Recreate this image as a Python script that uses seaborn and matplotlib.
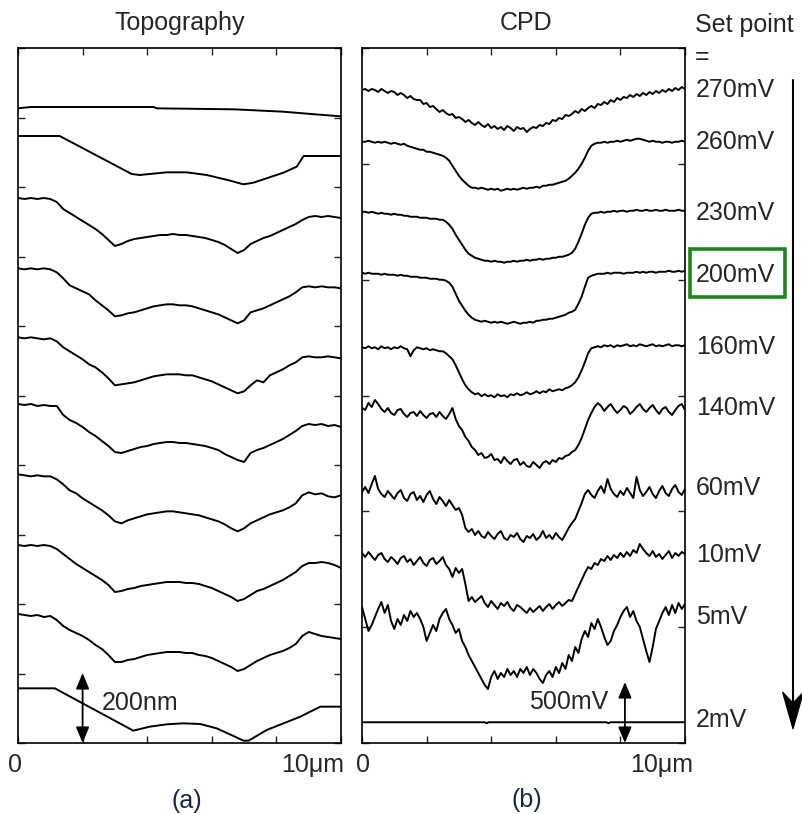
import numpy as np
import pandas as pd
import matplotlib
matplotlib.use("Agg")
import matplotlib.pyplot as plt
import seaborn as sns
from matplotlib.patches import Rectangle, Polygon
from matplotlib.lines import Line2D

sns.set_style("white")
plt.rcParams["font.family"] = ["Liberation Sans", "DejaVu Sans"]

# ---------------- data ----------------
set_points = ["270mV", "260mV", "230mV", "200mV", "160mV",
              "140mV", "60mV", "10mV", "5mV", "2mV"]
highlight = "200mV"

# Topography: height (nm), level of each trace at x = 0
topo_base = [1904, 1821, 1635, 1424, 1217, 1017, 806, 594, 387, 164]

# common sampling of the noisy topography traces (µm)
topo_grid = [round(0.2 * i, 1) for i in range(51)]

topo_x = {
    "270mV": [0, 0.4, 4.2, 4.3, 6.7, 8.2, 9.2, 10],
    "260mV": [0, 1.29, 3.52, 3.77, 4.6, 5.22, 5.84, 6.57, 6.98, 7.29, 8.22, 8.63, 8.84, 10],
    "2mV": [0, 1.14, 3.57, 4.08, 4.6, 5.12, 5.64, 6.15, 6.67, 6.98, 7.14, 7.7, 8.74, 9.36, 10],
}
topo_dev = {
    "270mV": [0, 4, 4, 0, -3, -10, -18, -24],
    "260mV": [0, 0, -114, -117, -109, -109, -117, -134, -145, -140, -110, -92, -60, -60],
    "230mV": [0, -3, 0, -3, 0, -3, -12, -33, -45, -57, -69, -81, -93, -108, -126, -144, -138, -129,
              -123, -120, -117, -114, -111, -111, -108, -111, -111, -114, -117, -120, -126, -132,
              -141, -153, -165, -156, -138, -129, -120, -114, -105, -96, -87, -78, -66, -57, -54,
              -57, -54, -57, -60],
    "200mV": [0, -3, 0, -3, 0, -3, -12, -30, -51, -60, -69, -78, -96, -111, -126, -144, -141, -135,
              -132, -126, -120, -114, -111, -108, -108, -111, -111, -114, -120, -126, -132, -138,
              -147, -156, -165, -156, -132, -126, -120, -111, -102, -93, -84, -72, -57, -54, -57,
              -54, -57, -57, -60],
    "160mV": [0, -3, 0, -3, -6, -3, -12, -30, -42, -54, -66, -81, -90, -105, -123, -144, -141, -138,
              -135, -129, -123, -117, -114, -111, -111, -111, -114, -114, -120, -126, -132, -141,
              -150, -159, -168, -162, -144, -129, -135, -114, -105, -96, -84, -75, -60, -57, -60,
              -60, -57, -60, -63],
    "140mV": [0, -3, 0, -6, -3, -6, -6, -33, -48, -57, -69, -84, -96, -111, -126, -144, -147, -141,
              -135, -129, -126, -120, -117, -114, -114, -117, -117, -120, -123, -126, -132, -138,
              -150, -159, -168, -174, -147, -138, -132, -123, -114, -105, -93, -81, -66, -60, -63,
              -60, -66, -63, -69],
    "60mV": [0, -3, -6, -3, -6, -6, -15, -30, -48, -57, -72, -84, -96, -108, -123, -141, -147, -138,
             -132, -126, -120, -117, -114, -111, -111, -114, -117, -120, -123, -129, -135, -141,
             -150, -162, -171, -162, -147, -138, -129, -120, -114, -108, -99, -87, -63, -54, -60,
             -57, -66, -69, -63],
    "10mV": [0, -3, 0, -3, 0, -3, -12, -27, -42, -57, -69, -81, -93, -105, -120, -141, -138, -132,
             -129, -123, -120, -117, -114, -111, -111, -111, -114, -114, -117, -123, -129, -138,
             -147, -156, -168, -162, -150, -138, -132, -123, -114, -105, -93, -81, -63, -54, -54,
             -51, -54, -60, -69],
    "5mV": [0, -3, -6, -3, -9, -6, -18, -36, -48, -57, -66, -78, -93, -105, -123, -144, -144, -138,
            -135, -129, -123, -120, -117, -114, -114, -114, -117, -117, -123, -126, -132, -141,
            -150, -159, -171, -165, -153, -141, -132, -123, -117, -111, -102, -90, -66, -54, -60,
            -66, -69, -72, -75],
    "2mV": [0, 0, -127, -115, -108, -105, -107, -120, -143, -157, -157, -125, -85, -55, -55],
}

# CPD: potential (mV), level of each trace at x = 0
cpd_base = [5224, 4810, 4250, 3762, 3166, 2664, 2008, 1504, 1088, 166]

cpd_x = {
    "2mV": [0, 3.8, 3.86, 3.92, 7.57, 7.63, 7.69, 10],
}
cpd_dev = {
    "270mV": [0, 8, -8, 8, 0, -16, 8, -8, -24, -8,
              -16, -40, -24, -40, -64, -48, -72, -80, -80, -112,
              -104, -136, -128, -152, -176, -160, -184, -200, -192, -224,
              -216, -232, -256, -240, -264, -280, -256, -280, -296, -272,
              -304, -288, -312, -296, -320, -288, -304, -328, -296, -312,
              -304, -336, -312, -296, -304, -280, -288, -264, -272, -240,
              -248, -224, -232, -200, -208, -192, -168, -184, -152, -168,
              -144, -128, -144, -112, -120, -96, -112, -80, -96, -64,
              -80, -56, -64, -40, -56, -32, -48, -24, -40, -16,
              -32, -8, -24, 0, -16, 8, -8, 16, 0, 24, 8],
    "260mV": [0, 0, 8, 0, -8, 0, -8, 0, -8, -16, -8, -16, -24, -16, -32, -40, -48, -56, -64, -64,
              -80, -80, -88, -96, -104, -112, -128, -152, -192, -232, -272, -304, -328, -352, -368,
              -368, -376, -368, -376, -384, -376, -384, -376, -392, -384, -376, -384, -376, -384,
              -376, -368, -376, -368, -368, -360, -368, -352, -352, -344, -344, -336, -328, -320,
              -312, -296, -272, -248, -216, -176, -128, -72, -32, -16, -8, -8, 0, -8, 0, 0, 8, 0, 8,
              16, 8, 16, 24, 24, 16, 8, 0, 8, 0, 0, -8, 0, 0, -8, 0, 0, 8, 0],
    "230mV": [0, 0, -8, 0, -8, -16, -8, -16, -16, -24, -16, -24, -24, -32, -32, -40, -40, -40, -48,
              -48, -48, -56, -56, -56, -64, -64, -80, -104, -136, -184, -224, -264, -304, -336,
              -352, -368, -376, -384, -392, -392, -400, -392, -400, -400, -408, -400, -400, -392,
              -400, -392, -392, -384, -392, -384, -384, -376, -384, -376, -376, -368, -368, -360,
              -360, -352, -344, -328, -296, -240, -176, -104, -48, -16, -8, -8, 0, -8, 0, 0, 8, 0,
              8, 8, 0, 8, 8, 16, 8, 8, 16, 8, 8, 16, 8, 8, 16, 8, 8, 8, 16, 8, 8],
    "200mV": [0, -8, 0, -8, -8, -8, -16, -8, -16, -16, -16, -24, -16, -24, -24, -32, -32, -32, -40,
              -40, -40, -48, -48, -48, -56, -56, -64, -80, -112, -168, -224, -264, -304, -336,
              -360, -376, -384, -392, -384, -392, -400, -392, -400, -392, -400, -408, -400, -392,
              -400, -408, -400, -400, -392, -400, -384, -384, -376, -376, -368, -368, -360, -352,
              -344, -336, -320, -312, -296, -248, -192, -112, -40, -24, -16, -8, -8, -8, 0, -8, 0,
              0, 0, -8, 0, 0, 0, 8, 0, 8, 0, 8, 8, 0, 8, 8, 8, 16, 8, 8, 16, 8, 16],
    "160mV": [0, -8, 8, -8, 0, -16, 8, -8, 0, -16, 0, -8, 8, -8, -16, -72, -24, 0, -8, -16, -8,
              -24, -16, -24, -32, -32, -48, -72, -96, -144, -200, -256, -304, -336, -360, -376,
              -368, -392, -376, -392, -384, -400, -376, -392, -384, -400, -376, -384, -368, -384,
              -376, -360, -376, -368, -352, -368, -352, -360, -336, -352, -344, -336, -344, -328,
              -320, -304, -280, -240, -184, -120, -48, -8, 0, 8, 0, 16, 8, 16, 0, 16, 8, 16, 24, 8,
              16, 8, 24, 16, 8, 16, 24, 8, 16, 8, 16, 24, 8, 16, 16, 8, 16],
    "140mV": [16, 0, 56, 24, 80, 48, 8, -16, 16, -24,
              -40, 0, 8, -32, -56, -24, -16, -48, -8, -40,
              -64, -32, -24, -56, -16, -48, -72, -32, 16, -72,
              -128, -160, -216, -248, -296, -320, -360, -344, -384, -376,
              -352, -400, -392, -424, -376, -408, -432, -400, -392, -440,
              -416, -448, -456, -416, -440, -464, -424, -408, -432, -400,
              -416, -384, -392, -368, -360, -336, -320, -280, -224, -152,
              -80, -24, 24, 56, 32, -8, 24, 48, 8, -24,
              0, 32, 16, -32, -8, 24, 48, 8, -16, 16,
              40, 0, -32, 8, 24, -16, -40, 0, 32, 48, 0],
    "60mV": [0, 40, -8, 64, 128, 24, -16, -40, 8, -24,
             -56, -8, 16, -48, -72, -16, 0, -64, -32, -80,
             -24, 8, -56, -96, -40, -72, -112, -64, -104, -144,
             -128, -184, -288, -320, -296, -344, -312, -352, -368, -320,
             -352, -376, -336, -312, -368, -384, -344, -360, -328, -376,
             -400, -352, -368, -336, -384, -360, -312, -368, -344, -376,
             -328, -360, -384, -336, -288, -248, -216, -152, -88, -16,
             16, -24, -48, 8, 48, -8, 104, 24, -16, -40,
             8, -24, 32, -8, -48, 120, 16, -32, 0, 40,
             -16, -48, 8, 48, -8, -32, 24, 56, 0, -24, 24],
    "10mV": [16, -16, 24, -8, -40, 0, 16, -32, -56, -16,
             -40, -72, -24, -8, -56, -32, -80, -48, -16, -64,
             -88, -40, -24, -72, -48, -16, -80, -112, -176, -104,
             -144, -112, -232, -368, -336, -376, -352, -328, -384, -416,
             -368, -400, -432, -384, -408, -376, -424, -448, -400, -416,
             -440, -464, -424, -456, -432, -408, -448, -416, -392, -432,
             -400, -376, -408, -384, -360, -368, -312, -256, -200, -144,
             -96, -112, -64, -80, -32, -48, -8, -40, 0, -24,
             16, -16, 24, -8, 40, 16, 88, 48, 16, -8,
             32, -16, 8, -32, 0, 32, -24, 16, -8, 24, 8],
    "5mV": [0, -96, -192, -144, -80, -16, 40, -48, 16, -112, -176, -96, -144, -64, -112, -32, -80,
            -48, -96, -160, -272, -208, -144, -192, -96, -48, -16, -96, -144, -208, -176, -272,
            -320, -384, -432, -480, -528, -576, -624, -656, -560, -512, -576, -528, -560, -496,
            -544, -512, -560, -496, -528, -480, -544, -496, -528, -576, -608, -544, -512, -560,
            -480, -528, -448, -496, -384, -432, -320, -368, -256, -192, -240, -128, -176, -96,
            -160, -240, -304, -272, -192, -144, -80, -32, 0, -80, -32, -112, -160, -256, -352,
            -440, -320, -176, -112, -48, 0, -64, 16, -48, 32, -16, 24],
    "2mV": [0, 0, -8, 0, 0, -8, 0, 0],
}

# scale bars
topo_bar_nm = 210      # drawn length of the "200nm" bar in axis units
cpd_bar_mv = 488       # drawn length of the "500mV" bar in axis units

# ---------------- build tidy frames ----------------
def build(base, xs, devs):
    rows = []
    for i, sp in enumerate(set_points):
        d = devs[sp]
        x = xs.get(sp)
        if x is None:
            x = list(np.linspace(0, 10, len(d)))
        for xv, dv in zip(x, d):
            rows.append((sp, xv, base[i] + dv))
    return pd.DataFrame(rows, columns=["set_point", "x", "y"])

topo_x_full = dict(topo_x)
for sp in set_points:
    if sp not in topo_x_full:
        topo_x_full[sp] = topo_grid
df_topo = build(topo_base, topo_x_full, topo_dev)
df_cpd = build(cpd_base, cpd_x, cpd_dev)

# ---------------- figure ----------------
W, H = 802, 814
fig = plt.figure(figsize=(W / 100, H / 100), dpi=100)
fig.patch.set_facecolor("white")

def fx(px):
    return px / W

def fy(py):
    return 1 - py / H

axL = fig.add_axes([fx(18), fy(743), 323 / W, 695 / H])
axR = fig.add_axes([fx(362), fy(743), 323 / W, 695 / H])

for ax, df, top, nint in [(axL, df_topo, 2085, 10), (axR, df_cpd, 5560, 6)]:
    sns.lineplot(data=df, x="x", y="y", units="set_point", estimator=None,
                 sort=False, color="black", lw=1.4, ax=ax, legend=False)
    ax.set_xlim(0, 10)
    ax.set_ylim(0, top)
    ax.set_xticks([0, 2, 4, 6, 8, 10])
    ax.set_yticks(np.linspace(0, top, nint + 1))
    ax.tick_params(direction="in", length=5, width=1.0, top=True, right=True,
                   bottom=True, left=True, labelbottom=False, labelleft=False,
                   color="#222222")
    ax.set_xlabel("")
    ax.set_ylabel("")
    for s in ax.spines.values():
        s.set_visible(True)
        s.set_linewidth(1.2)
        s.set_color("black")

FS = 18
# titles
fig.text(fx(180), fy(23), "Topography", ha="center", va="center", fontsize=FS)
fig.text(fx(526), fy(23), "CPD", ha="center", va="center", fontsize=FS)

# x labels
for x0, x10 in [(15, 313), (363, 662)]:
    fig.text(fx(x0), fy(765), "0", ha="center", va="center", fontsize=FS)
    fig.text(fx(x10), fy(765), "10μm", ha="center", va="center", fontsize=FS)
fig.text(fx(187), fy(801), "(a)", ha="center", va="center", fontsize=FS, color="#1b2748")
fig.text(fx(527), fy(800), "(b)", ha="center", va="center", fontsize=FS, color="#1b2748")

# scale bars
arrow_kw = dict(arrowstyle="<|-|>,head_length=0.6,head_width=0.25", color="black",
                lw=1.3, shrinkA=0, shrinkB=0, mutation_scale=16)
axL.annotate("", xy=(2.0, 0), xytext=(2.0, topo_bar_nm), arrowprops=arrow_kw)
axL.text(2.6, 120, "200nm", ha="left", va="center", fontsize=FS)
axR.annotate("", xy=(8.14, 0), xytext=(8.14, cpd_bar_mv), arrowprops=arrow_kw)
axR.text(7.62, 330, "500mV", ha="right", va="center", fontsize=FS)

# set point labels
label_y = [90, 142, 213, 275, 347, 408, 488, 555, 617, 720]
fig.text(fx(695), fy(25), "Set point", ha="left", va="center", fontsize=FS)
fig.text(fx(695), fy(57), "=", ha="left", va="center", fontsize=FS)
for sp, py in zip(set_points, label_y):
    fig.text(fx(696), fy(py), sp, ha="left", va="center", fontsize=FS)
    if sp == highlight:
        fig.add_artist(Rectangle((fx(690), fy(297)), 95 / W, 48 / H, fill=False,
                                 ec="#188a18", lw=2.6, transform=fig.transFigure))

# big downward arrow
fig.add_artist(Line2D([fx(793), fx(793)], [fy(80), fy(705)], color="black", lw=1.5,
                      transform=fig.transFigure))
fig.add_artist(Polygon([(fx(793), fy(729)), (fx(782.5), fy(692)), (fx(793), fy(703)),
                        (fx(803.5), fy(692))], closed=True, fc="black", ec="black",
                       lw=0.8, transform=fig.transFigure))

fig.savefig("out.png", dpi=100, facecolor="white")
